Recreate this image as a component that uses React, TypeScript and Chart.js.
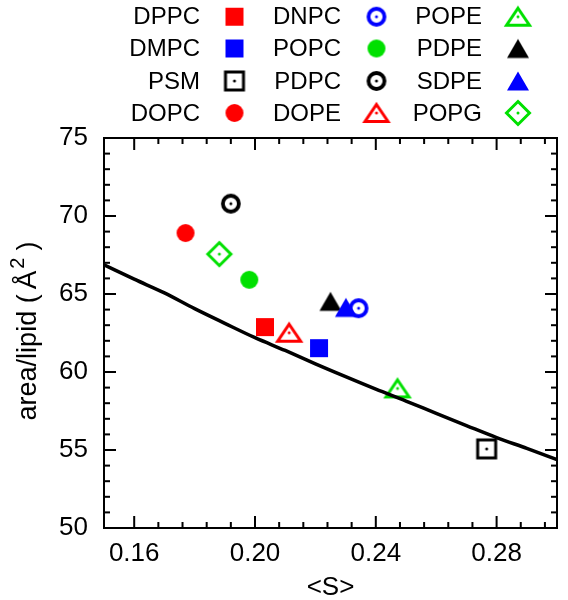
import React, { useEffect, useRef } from 'react';
import { Chart, registerables } from 'chart.js';

Chart.register(...registerables);

// ---------- data ----------
const lipidNames = ['DPPC', 'DMPC', 'PSM', 'DOPC', 'DNPC', 'POPC', 'PDPC', 'DOPE', 'POPE', 'PDPE', 'SDPE', 'POPG'];
const orderParam = [0.2033, 0.2212, 0.2767, 0.177, 0.2343, 0.1981, 0.192, 0.2113, 0.2472, 0.225, 0.2301, 0.1882];
const areaPerLipid = [62.88, 61.53, 55.07, 68.91, 64.09, 65.91, 70.79, 62.52, 58.95, 64.53, 64.14, 67.56];
const markerColors = ['#ff0000', '#0000ff', '#000000', '#ff0000', '#0000ff', '#00e000', '#000000', '#ff0000', '#00e000', '#000000', '#0000ff', '#00e000'];
const markerShapes = ['square', 'square', 'openSquare', 'circle', 'openCircle', 'circle', 'openCircle', 'openTriangle', 'openTriangle', 'triangle', 'triangle', 'openDiamond'];

const fitS = [0.15, 0.16, 0.17, 0.18, 0.19, 0.2, 0.21, 0.22, 0.23, 0.24, 0.25, 0.26, 0.27, 0.28, 0.29, 0.3];
const fitArea = [66.87, 65.95, 65.07, 64.06, 63.12, 62.2, 61.38, 60.52, 59.7, 58.9, 58.14, 57.35, 56.57, 55.8, 55.1, 54.38];

const xRange = [0.15, 0.3];
const yRange = [50, 75];
const xTickValues = [0.16, 0.2, 0.24, 0.28];
const yTickValues = [50, 55, 60, 65, 70, 75];
const xMinorTickValues = [0.168, 0.176, 0.184, 0.192, 0.208, 0.216, 0.224, 0.232, 0.248, 0.256, 0.264, 0.272, 0.288, 0.296];
const yMinorTickValues = [51, 52, 53, 54, 56, 57, 58, 59, 61, 62, 63, 64, 66, 67, 68, 69, 71, 72, 73, 74];

// ---------- style / layout ----------
const FONT = '"Liberation Sans", Arial, Helvetica, sans-serif';

function makeMarker(shape: string, color: string): HTMLCanvasElement {
  const c = document.createElement('canvas');
  c.width = 34;
  c.height = 34;
  const g = c.getContext('2d') as CanvasRenderingContext2D;
  g.translate(17, 17);
  g.fillStyle = color;
  g.strokeStyle = color;
  g.lineWidth = 3;
  g.lineJoin = 'miter';
  const dot = () => {
    g.beginPath();
    g.arc(0, 0, 1.5, 0, Math.PI * 2);
    g.fill();
  };
  switch (shape) {
    case 'square':
      g.fillRect(-9, -9, 18, 18);
      break;
    case 'openSquare':
      g.strokeRect(-9, -9, 18, 18);
      dot();
      break;
    case 'circle':
      g.beginPath();
      g.arc(0, 0, 9, 0, Math.PI * 2);
      g.fill();
      break;
    case 'openCircle':
      g.lineWidth = 3.8;
      g.beginPath();
      g.arc(0, 0, 8, 0, Math.PI * 2);
      g.stroke();
      dot();
      break;
    case 'openTriangle':
      g.beginPath();
      g.moveTo(0, -8.5);
      g.lineTo(11.5, 8.5);
      g.lineTo(-11.5, 8.5);
      g.closePath();
      g.stroke();
      dot();
      break;
    case 'triangle':
      g.beginPath();
      g.moveTo(0, -9.5);
      g.lineTo(11, 9.5);
      g.lineTo(-11, 9.5);
      g.closePath();
      g.fill();
      break;
    case 'openDiamond':
      g.beginPath();
      g.moveTo(0, -11.5);
      g.lineTo(11.5, 0);
      g.lineTo(0, 11.5);
      g.lineTo(-11.5, 0);
      g.closePath();
      g.stroke();
      dot();
      break;
  }
  return c;
}

const legendLayout = {
  rowY: [16.7, 48.5, 81, 113],
  labelRight: [200, 341, 482],
  markerX: [234.5, 376.5, 518],
  rowsPerCol: 4,
};

const legendPlugin = {
  id: 'lipidLegend',
  afterDraw(chart: any) {
    const ctx = chart.ctx as CanvasRenderingContext2D;
    ctx.save();
    ctx.font = `24px ${FONT}`;
    ctx.textAlign = 'right';
    ctx.textBaseline = 'middle';
    ctx.fillStyle = '#000';
    chart.data.datasets.forEach((ds: any, i: number) => {
      if (!ds.inLegend) return;
      const col = Math.floor(i / legendLayout.rowsPerCol);
      const row = i % legendLayout.rowsPerCol;
      const y = legendLayout.rowY[row];
      ctx.fillText(ds.label, legendLayout.labelRight[col], y + 1);
      const img = ds.pointStyle as HTMLCanvasElement;
      ctx.drawImage(img, legendLayout.markerX[col] - img.width / 2, y - img.height / 2);
    });
    ctx.restore();
  },
};

const framePlugin = {
  id: 'frameTicks',
  afterDraw(chart: any) {
    const ctx = chart.ctx as CanvasRenderingContext2D;
    const a = chart.chartArea;
    const xs = chart.scales['x'];
    const ys = chart.scales['y'];
    const major = 12;
    const minor = 6;
    ctx.save();
    ctx.fillStyle = '#000';
    const xt = (v: number, len: number) => {
      const px = xs.getPixelForValue(v);
      ctx.fillRect(px - 1, a.bottom - len, 2, len);
      ctx.fillRect(px - 1, a.top, 2, len);
    };
    const yt = (v: number, len: number) => {
      const py = ys.getPixelForValue(v);
      ctx.fillRect(a.left, py - 1, len, 2);
      ctx.fillRect(a.right - len, py - 1, len, 2);
    };
    xTickValues.forEach((v) => xt(v, major));
    xMinorTickValues.forEach((v) => xt(v, minor));
    yTickValues.forEach((v) => yt(v, major));
    yMinorTickValues.forEach((v) => yt(v, minor));

    // frame
    ctx.strokeStyle = '#000';
    ctx.lineWidth = 2;
    ctx.strokeRect(a.left, a.top, a.right - a.left, a.bottom - a.top);

    // y-axis title with a real superscript
    ctx.translate(27, (a.top + a.bottom) / 2 - 2);
    ctx.rotate(-Math.PI / 2);
    ctx.textBaseline = 'alphabetic';
    ctx.textAlign = 'left';
    const big = `27px ${FONT}`;
    const ang = `28px ${FONT}`;
    const small = `20px ${FONT}`;
    const parts: [string, string, number, number][] = [
      ['area/lipid (', big, 0, 0],
      ['Å', ang, 5, 0],
      ['2', small, 2, -12],
      [')', big, 7, 0],
    ];
    let total = 0;
    parts.forEach(([t, f, gap]) => {
      ctx.font = f;
      total += gap + ctx.measureText(t).width;
    });
    let cx = -total / 2;
    parts.forEach(([t, f, gap, dy]) => {
      ctx.font = f;
      cx += gap;
      ctx.fillText(t, cx, 9 + dy);
      cx += ctx.measureText(t).width;
    });
    ctx.restore();
  },
};

export default function App() {
  const ref = useRef<HTMLCanvasElement | null>(null);

  useEffect(() => {
    if (!ref.current) return;
    const lipidSets = lipidNames.map((name, i) => ({
      label: name,
      inLegend: true,
      data: [{ x: orderParam[i], y: areaPerLipid[i] }],
      pointStyle: makeMarker(markerShapes[i], markerColors[i]),
      pointRadius: 10,
      borderColor: markerColors[i],
      backgroundColor: markerColors[i],
      order: -i,
    }));
    const fitSet = {
      label: 'fit',
      inLegend: false,
      data: fitS.map((s, i) => ({ x: s, y: fitArea[i] })),
      showLine: true,
      pointRadius: 0,
      borderColor: '#000',
      backgroundColor: '#000',
      borderWidth: 3.5,
      cubicInterpolationMode: 'monotone',
      order: -100,
    };
    const chart = new Chart(ref.current, {
      type: 'scatter',
      data: { datasets: [...lipidSets, fitSet] as any },
      options: {
        animation: false,
        responsive: false,
        layout: { padding: { top: 138, right: 3, left: 0, bottom: 0 } },
        plugins: { legend: { display: false }, tooltip: { enabled: false } },
        scales: {
          x: {
            type: 'linear',
            min: xRange[0],
            max: xRange[1],
            afterBuildTicks: (s: any) => {
              s.ticks = xTickValues.map((v) => ({ value: v }));
            },
            afterFit: (s: any) => {
              s.height = 72;
            },
            grid: { display: false, drawTicks: false },
            border: { display: false },
            ticks: {
              padding: 10,
              color: '#000',
              font: { size: 26, family: FONT },
              maxRotation: 0,
              callback: (v: any) => Number(v).toFixed(2),
            },
            title: {
              display: true,
              text: '<S>',
              color: '#000',
              font: { size: 26, family: FONT, lineHeight: 0.9 },
              padding: 0,
            },
          },
          y: {
            type: 'linear',
            min: yRange[0],
            max: yRange[1],
            afterBuildTicks: (s: any) => {
              s.ticks = yTickValues.map((v) => ({ value: v }));
            },
            afterFit: (s: any) => {
              s.width = 104;
            },
            grid: { display: false, drawTicks: false },
            border: { display: false },
            ticks: {
              padding: 16,
              color: '#000',
              font: { size: 26, family: FONT },
            },
            title: { display: false },
          },
        },
      },
      plugins: [framePlugin, legendPlugin],
    });
    return () => chart.destroy();
  }, []);

  return (
    <div style={{ position: 'absolute', left: 0, top: 0, width: 568, height: 600, background: '#fff' }}>
      <canvas ref={ref} width={568} height={600} style={{ display: 'block' }} />
    </div>
  );
}
